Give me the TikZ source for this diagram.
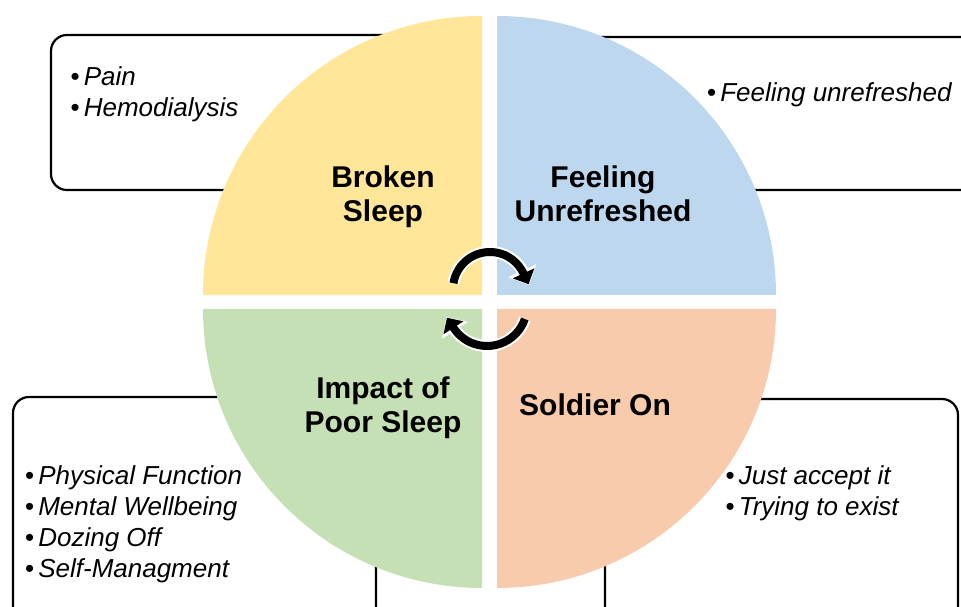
\documentclass[tikz,border=0pt]{standalone}
\usepackage{fontspec}
\setmainfont{Liberation Sans}
\usetikzlibrary{arrows.meta}
\definecolor{brokenq}{HTML}{FFE699}
\definecolor{unrefq}{HTML}{BDD7EE}
\definecolor{impactq}{HTML}{C5E0B4}
\definecolor{soldierq}{HTML}{F8CBAD}
\begin{document}
\begin{tikzpicture}[x=1pt, y=1pt,
                    note/.style={draw=black, line width=2.2pt, rounded corners=16pt},
                    item/.style={font=\fontsize{26}{31}\selectfont, inner sep=0pt, anchor=base west},
                    title/.style={font=\fontsize{30}{34}\selectfont\bfseries, align=center, inner sep=0pt, anchor=base},
                    halo/.style={draw=white, line width=12pt, -{Triangle[width=30pt,length=16pt]}, shorten >=-13pt},
                    turn/.style={draw=black, line width=8pt, -{Triangle[width=23pt,length=12pt]}, shorten >=-12pt}]
\useasboundingbox (0,0) rectangle (961,607);

\draw[note] (51,417) rectangle (440,572);
\draw[note] (540,417) rectangle (1000,570);
\draw[note] (13,-30) rectangle (376,210);
\draw[note] (605,-30) rectangle (958,208);

\fill[brokenq]  (482,312) -- (203,312) arc (180:90:279) -- cycle;
\fill[unrefq]   (497,312) -- (497,591) arc (90:0:279) -- cycle;
\fill[impactq]  (482,298) -- (203,298) arc (180:270:279) -- cycle;
\fill[soldierq] (497,298) -- (776,298) arc (0:-90:279) -- cycle;

\coordinate (up)   at (490,318);
\coordinate (down) at (487,301);
\draw[halo] ([shift={(171:37)}]up) arc (171:25:37);
\draw[turn] ([shift={(171:37)}]up) arc (171:25:37);
\draw[halo] ([shift={(-19:40)}]down) arc (-19:-147:40);
\draw[turn] ([shift={(-19:40)}]down) arc (-19:-147:40);

\node[title] (broken)  at (383,385) {Broken\\Sleep};
\node[title] (unref)   at (603,385) {Feeling\\Unrefreshed};
\node[title] (impact)  at (383,174) {Impact of\\Poor Sleep};
\node[title] (soldier) at (595,191) {Soldier On};

\node[item] (pain) at (70.5,521) {\textbullet\hspace{4pt}\itshape Pain};
\node[item] (hemo) at ([yshift=-31pt]pain.base west) {\textbullet\hspace{4pt}\itshape Hemodialysis};

\node[item] (tired) at (707,505) {\textbullet\hspace{4pt}\itshape Feeling unrefreshed};

\node[item] (phys)  at (25,122) {\textbullet\hspace{4pt}\itshape Physical Function};
\node[item] (mind)  at ([yshift=-31pt]phys.base west) {\textbullet\hspace{4pt}\itshape Mental Wellbeing};
\node[item] (doze)  at ([yshift=-31pt]mind.base west) {\textbullet\hspace{4pt}\itshape Dozing Off};
\node[item] (self)  at ([yshift=-31pt]doze.base west) {\textbullet\hspace{4pt}\itshape Self-Managment};

\node[item] (accept) at (725.5,122) {\textbullet\hspace{4pt}\itshape Just accept it};
\node[item] (exist)  at ([yshift=-31pt]accept.base west) {\textbullet\hspace{4pt}\itshape Trying to exist};
\end{tikzpicture}
\end{document}
